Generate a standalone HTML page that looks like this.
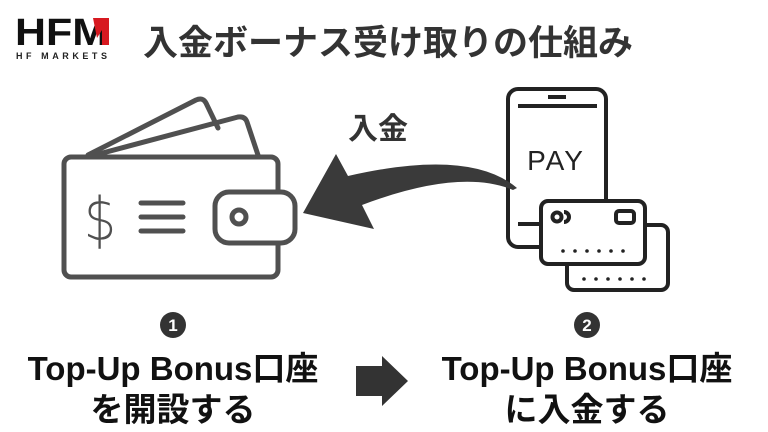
<!DOCTYPE html>
<html><head><meta charset="utf-8"><style>
body{margin:0;width:768px;height:432px;background:#fff;overflow:hidden;position:relative;font-family:"Liberation Sans","Noto Sans CJK JP",sans-serif}
.t{position:absolute;font-weight:bold;color:#111;white-space:nowrap}
</style></head><body>
<svg width="768" height="432" style="position:absolute;left:0;top:0">
<g fill="none" stroke="#505050" stroke-width="5" stroke-linejoin="round" stroke-linecap="round">
<path d="M88 155 L196 100 Q203 97 206 103 L218 128"/>
<path d="M95 155 L238 117 Q245 116 247 122 L258 155"/>
<rect x="64" y="157" width="214" height="120" rx="7"/>
<rect x="215" y="192" width="80" height="51" rx="14" fill="#fff"/>
<circle cx="239" cy="217" r="7"/>
<line x1="141" y1="203" x2="183" y2="203"/><line x1="141" y1="217" x2="183" y2="217"/><line x1="141" y1="231" x2="183" y2="231"/>
</g>
<text x="100" y="240" font-family="DejaVu Sans" font-size="60" font-weight="300" fill="#505050" text-anchor="middle" transform="translate(100 217) scale(0.85 1) translate(-100 -217)">$</text>
<g fill="none" stroke="#222" stroke-width="4" stroke-linejoin="round">
<rect x="508" y="89" width="98" height="158" rx="10" fill="#fff"/>
<line x1="518" y1="106" x2="597" y2="106"/><line x1="548" y1="97" x2="566" y2="97"/>
<line x1="518" y1="224" x2="540" y2="224"/>
<rect x="567" y="225" width="101" height="65" rx="7" fill="#fff"/>
<rect x="541" y="201" width="104" height="63" rx="7" fill="#fff"/>
<circle cx="557" cy="217" r="4.5"/><path d="M564 212 a5 5 0 0 1 0 10"/>
<rect x="616" y="211" width="18" height="12" rx="3"/>
</g>
<g fill="#222"><circle cx="563" cy="251" r="1.8"/><circle cx="575" cy="251" r="1.8"/><circle cx="587" cy="251" r="1.8"/><circle cx="599" cy="251" r="1.8"/><circle cx="611" cy="251" r="1.8"/><circle cx="623" cy="251" r="1.8"/>
<circle cx="584" cy="279" r="1.8"/><circle cx="596" cy="279" r="1.8"/><circle cx="608" cy="279" r="1.8"/><circle cx="620" cy="279" r="1.8"/><circle cx="632" cy="279" r="1.8"/><circle cx="644" cy="279" r="1.8"/></g>
<text x="556" y="170" font-family="Liberation Sans" font-size="28" fill="#222" text-anchor="middle" letter-spacing="2">PAY</text>
<path d="M517 188 Q470 148 348 176 L336 154 L303 213 L374 229 L362 205 Q460 168 513 190 Z" fill="#3a3a3a"/>
<path d="M356 366 H382 V356 L408 381 L382 406 V396 H356 Z" fill="#333"/>
<circle cx="173" cy="325" r="13" fill="#333"/><circle cx="587" cy="325" r="13" fill="#333"/>
<text x="173" y="331" font-size="17" font-weight="bold" fill="#fff" text-anchor="middle" font-family="Liberation Sans">1</text>
<text x="587" y="331" font-size="17" font-weight="bold" fill="#fff" text-anchor="middle" font-family="Liberation Sans">2</text>
<text x="15" y="45" font-size="38" font-weight="bold" fill="#111" font-family="Liberation Sans" textLength="93" lengthAdjust="spacingAndGlyphs">HFM</text>
<path d="M93 18 H109 V45 H102 V30 L97 38 Z" fill="#d71920"/>
<text x="16" y="59" font-size="9" font-weight="bold" fill="#222" font-family="Liberation Sans" textLength="91" lengthAdjust="spacing">HF MARKETS</text>
</svg>
<div class="t" style="left:143px;top:15px;font-size:35px;color:#333">入金ボーナス受け取りの仕組み</div>
<div class="t" style="left:348px;top:104px;font-size:30px;color:#333">入金</div>
<div class="t" style="left:0;width:346px;text-align:center;top:348px;font-size:33px;line-height:41px">Top-Up Bonus口座<br>を開設する</div>
<div class="t" style="left:414px;width:346px;text-align:center;top:348px;font-size:33px;line-height:41px">Top-Up Bonus口座<br>に入金する</div>
</body></html>
